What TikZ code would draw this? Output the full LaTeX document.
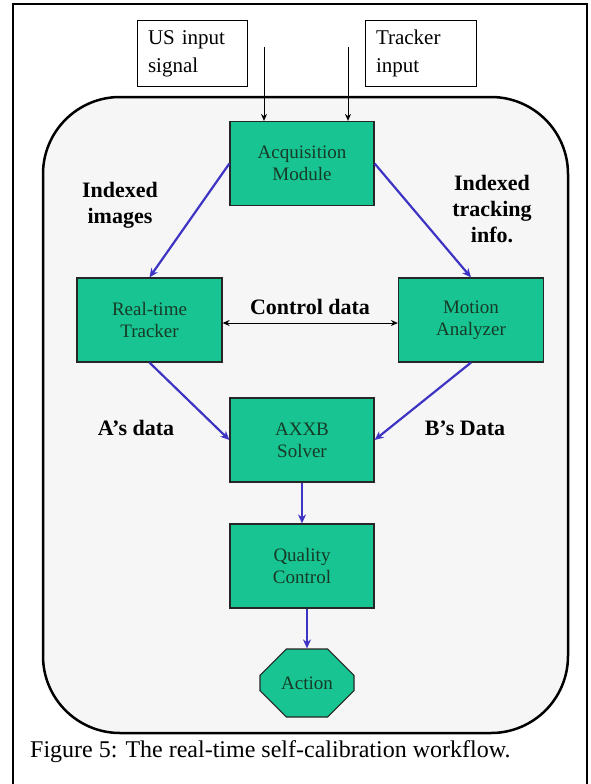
\documentclass[tikz,border=0pt]{standalone}
\usepackage{fontspec}
\setmainfont{Liberation Serif}
\usetikzlibrary{arrows.meta,shapes.misc,calc}
\definecolor{boxgreen}{RGB}{24,196,146}
\definecolor{boxtext}{RGB}{22,58,38}
\definecolor{flowblue}{RGB}{62,52,196}
\definecolor{panelgray}{RGB}{246,246,246}
\begin{document}
\begin{tikzpicture}[x=1pt,y=-1pt,
  inbox/.style={draw=black,line width=1pt,fill=white,minimum height=65pt,inner xsep=11pt,
    align=left,font=\fontsize{21}{28}\selectfont},
  module/.style={draw=black!85,line width=1.2pt,fill=boxgreen,minimum width=144pt,minimum height=84pt,
    align=center,text=boxtext,font=\fontsize{19}{22}\selectfont},
  blabel/.style={align=center,font=\bfseries\fontsize{22}{26}\selectfont},
  blueflow/.style={draw=flowblue,line width=2.2pt,-{Stealth[length=9pt,width=8pt]}},
  blackflow/.style={draw=black,line width=1pt,-{Stealth[length=7pt,width=6pt]}}]
\useasboundingbox (0,0) rectangle (590,784);
\fill[white] (0,0) rectangle (590,784);
% outer frame
\draw[line width=1.3pt] (13,784) -- (13,4) -- (587,4) -- (587,784);
% panel
\draw[line width=2.5pt,fill=panelgray,rounded corners=77pt] (43,97) rectangle (568,733);
% input boxes
\node[inbox,text width=88pt] (us) at (192,53.5) {US input\\signal};
\node[inbox,text width=89pt] (trk) at (420.5,53.5) {Tracker\\input};
% modules
\node[module] (acq) at (302,163.5) {Acquisition\\Module};
\node[module,minimum width=145pt] (rt) at (149.5,320) {Real-time\\Tracker};
\node[module,minimum width=145pt] (ma) at (471,320) {Motion\\Analyzer};
\node[module] (axxb) at (302,440) {AXXB\\Solver};
\node[module] (qc) at (302,566) {Quality\\Control};
\node[draw=black!85,line width=1.2pt,fill=boxgreen,chamfered rectangle,chamfered rectangle xsep=16pt,
  chamfered rectangle ysep=20pt,minimum width=94pt,minimum height=68pt,inner sep=0pt,text=boxtext,
  font=\fontsize{19}{22}\selectfont] (act) at (307,683) {Action};
% input arrows
\coordinate (s1) at (264,47);
\coordinate (s2) at (348,47);
\draw[blackflow] (s1) -- (s1 |- acq.north);
\draw[blackflow] (s2) -- (s2 |- acq.north);
% flows
\draw[blueflow] (acq.west) -- (rt.north);
\draw[blueflow] (acq.east) -- (ma.north);
\draw[blueflow] (rt.south) -- (axxb.west);
\draw[blueflow] (ma.south) -- (axxb.east);
\draw[blueflow] (axxb.south) -- (qc.north);
\draw[blueflow] (qc.south -| act.north) -- (act.north);
\draw[draw=black,line width=1pt,{Stealth[length=7pt,width=6pt]}-{Stealth[length=7pt,width=6pt]}] ($(rt.east)+(0,3)$) -- ($(ma.west)+(0,3)$);
% labels
\node[blabel] (l1) at (120,205) {Indexed\\images};
\node[blabel] (l2) at (492,209) {Indexed\\tracking\\info.};
\node[blabel] (l3) at (310,307) {Control data};
\node[blabel] (l4) at (136,428) {A’s data};
\node[blabel] (l5) at (465,428) {B’s Data};
\node[anchor=west,inner sep=0pt,font=\fontsize{24}{28}\selectfont] (cap) at (30,752) {Figure 5: The real-time self-calibration workflow.};
\end{tikzpicture}
\end{document}
